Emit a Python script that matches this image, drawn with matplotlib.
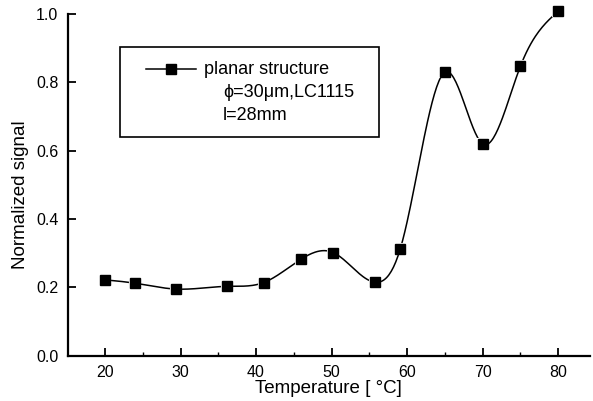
import numpy as np
import matplotlib
matplotlib.use('Agg')
import matplotlib.pyplot as plt
from matplotlib.ticker import MultipleLocator
from matplotlib.lines import Line2D

temp = [20, 24, 29.4, 36.2, 41.0, 46.0, 50.2, 55.8, 59.1, 65.0, 70.0, 75.0, 80.0]
signal = [0.222, 0.212, 0.195, 0.203, 0.214, 0.283, 0.302, 0.215, 0.313, 0.830, 0.620, 0.847, 1.008]

legend_lines = ['planar structure', '\u03d5=30\u03bcm,LC1115', 'l=28mm']


def natural_spline(x, y, n=400):
    # plain natural cubic spline, only used to draw the smooth connecting curve
    x = np.asarray(x, float)
    y = np.asarray(y, float)
    k = len(x)
    h = np.diff(x)
    A = np.zeros((k, k))
    b = np.zeros(k)
    A[0, 0] = A[-1, -1] = 1
    for i in range(1, k - 1):
        A[i, i - 1] = h[i - 1]
        A[i, i] = 2 * (h[i - 1] + h[i])
        A[i, i + 1] = h[i]
        b[i] = 6 * ((y[i + 1] - y[i]) / h[i] - (y[i] - y[i - 1]) / h[i - 1])
    M = np.linalg.solve(A, b)
    xs = np.linspace(x[0], x[-1], n)
    idx = np.clip(np.searchsorted(x, xs) - 1, 0, k - 2)
    x0, x1 = x[idx], x[idx + 1]
    hh = x1 - x0
    t0 = x1 - xs
    t1 = xs - x0
    ys = (M[idx] * t0**3 + M[idx + 1] * t1**3) / (6 * hh) \
        + (y[idx] / hh - M[idx] * hh / 6) * t0 \
        + (y[idx + 1] / hh - M[idx + 1] * hh / 6) * t1
    return xs, ys


plt.rcParams['font.family'] = ['Liberation Sans', 'DejaVu Sans']

fig = plt.figure(figsize=(5.93, 4.01), dpi=100)
ax = fig.add_axes([0.1147, 0.113, 0.88, 0.852])

xs, ys = natural_spline(temp, signal)
ax.plot(xs, ys, color='black', lw=1.1, clip_on=False)
ax.plot(temp, signal, 's', color='black', ms=7, mec='white', mew=1.5, clip_on=False)
ax.plot(temp, signal, 's', color='black', ms=6.5, clip_on=False)

ax.set_xlim(15.1, 84.2)
ax.set_ylim(0, 1.0)
ax.xaxis.set_minor_locator(MultipleLocator(5))
ax.set_xticks(range(20, 81, 10))
ax.yaxis.set_major_locator(MultipleLocator(0.2))
ax.yaxis.set_major_formatter(plt.FormatStrFormatter('%.1f'))

for s in ['top', 'right']:
    ax.spines[s].set_visible(False)
for s in ['left', 'bottom']:
    ax.spines[s].set_linewidth(1.6)

ax.tick_params(which='major', direction='in', length=6, width=1.3, labelsize=11.5, pad=7)
ax.tick_params(which='minor', direction='in', length=3, width=1.0)

ax.set_xlabel('Temperature [ \u00b0C]', fontsize=13.5)
ax.xaxis.set_label_coords(0.5, -0.072)
ax.set_ylabel('Normalized signal', fontsize=13.5)
ax.yaxis.set_label_coords(-0.074, 0.47)

# legend box drawn by hand to match the original layout
box = plt.Rectangle((0.0996, 0.640), 0.496, 0.264, transform=ax.transAxes,
                    fill=False, lw=1.2, color='black')
ax.add_patch(box)
ax.add_line(Line2D([0.149, 0.245], [0.839, 0.839], transform=ax.transAxes,
                   color='black', lw=1.1))
ax.plot([0.197], [0.839], 's', color='black', ms=6.5, transform=ax.transAxes)
ax.text(0.261, 0.839, legend_lines[0], transform=ax.transAxes, fontsize=13, va='center')
ax.text(0.297, 0.769, legend_lines[1], transform=ax.transAxes, fontsize=13, va='center')
ax.text(0.297, 0.704, legend_lines[2], transform=ax.transAxes, fontsize=13, va='center')

fig.savefig('out.png', dpi=100)
